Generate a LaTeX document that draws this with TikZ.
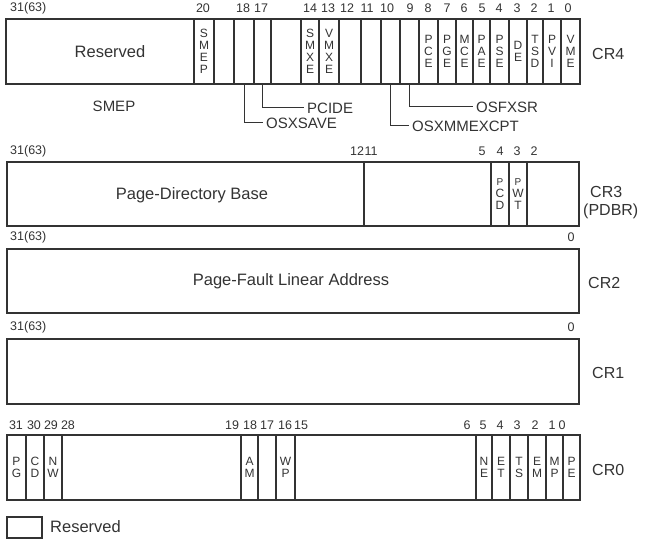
\documentclass[tikz,border=0pt]{standalone}
\usepackage{fontspec}
\setmainfont{Liberation Sans}
\definecolor{ink}{gray}{0.2}
\newcommand\fieldbox[6]{\node[fld, minimum width={(#3-#2)*1pt}, minimum height={(#5-#4)*1pt}] (#1) at (#2,#4) {#6};}
\tikzset{
  fld/.style={draw=ink, line width=1.3pt, inner sep=0pt, outer sep=0pt, anchor=north west, align=center, text=ink, font=\fontsize{12}{12}\selectfont},
  bitnum/.style={font=\fontsize{12.5}{13}\selectfont, inner sep=0pt, text=ink},
  reglabel/.style={font=\fontsize{16}{17}\selectfont, anchor=west, inner sep=0pt, text=ink},
  bigtext/.style={font=\fontsize{16.5}{18}\selectfont, inner sep=0pt, text=ink},
  flaglabel/.style={font=\fontsize{15}{16}\selectfont, anchor=west, inner sep=0pt, inner xsep=3pt, text=ink},
  leader/.style={draw=ink, line width=1pt},
}
\begin{document}
\begin{tikzpicture}[x=1pt,y=-1pt]
\useasboundingbox (0,0) rectangle (651,545);
% ---------------- CR4 ----------------
\fieldbox{r4res}{6}{194}{19}{84}{}
\fieldbox{r4b20}{194}{214}{19}{84}{S\\M\\E\\P}
\fieldbox{r4b19}{214}{234}{19}{84}{}
\fieldbox{r4b18}{234}{254}{19}{84}{}
\fieldbox{r4b17}{254}{271}{19}{84}{}
\fieldbox{r4b16}{271}{301}{19}{84}{}
\fieldbox{r4b14}{301}{319}{19}{84}{S\\M\\X\\E}
\fieldbox{r4b13}{319}{339}{19}{84}{V\\M\\X\\E}
\fieldbox{r4b12}{339}{361}{19}{84}{}
\fieldbox{r4b11}{361}{381}{19}{84}{}
\fieldbox{r4b10}{381}{400}{19}{84}{}
\fieldbox{r4b9}{400}{419}{19}{84}{}
\fieldbox{r4b8}{419}{438}{19}{84}{P\\C\\E}
\fieldbox{r4b7}{438}{456}{19}{84}{P\\G\\E}
\fieldbox{r4b6}{456}{473}{19}{84}{M\\C\\E}
\fieldbox{r4b5}{473}{490}{19}{84}{P\\A\\E}
\fieldbox{r4b4}{490}{509}{19}{84}{P\\S\\E}
\fieldbox{r4b3}{509}{527}{19}{84}{D\\E}
\fieldbox{r4b2}{527}{543}{19}{84}{T\\S\\D}
\fieldbox{r4b1}{543}{561}{19}{84}{P\\V\\I}
\fieldbox{r4b0}{561}{580}{19}{84}{V\\M\\E}
\node[bigtext] (r4restext) at (110,52) {Reserved};
\node[bitnum, anchor=west] (n4a) at (10,8) {31(63)};
\node[bitnum] (n4b) at (203,8) {20};
\node[bitnum] (n4c) at (243,8) {18};
\node[bitnum] (n4d) at (261,8) {17};
\node[bitnum] (n4e) at (310,8) {14};
\node[bitnum] (n4f) at (328,8) {13};
\node[bitnum] (n4g) at (347,8) {12};
\node[bitnum] (n4h) at (367,8) {11};
\node[bitnum] (n4i) at (387,8) {10};
\node[bitnum] (n4j) at (410,8) {9};
\node[bitnum] (n4k) at (428,8) {8};
\node[bitnum] (n4l) at (447,8) {7};
\node[bitnum] (n4m) at (464,8) {6};
\node[bitnum] (n4n) at (482,8) {5};
\node[bitnum] (n4o) at (499,8) {4};
\node[bitnum] (n4p) at (517,8) {3};
\node[bitnum] (n4q) at (534,8) {2};
\node[bitnum] (n4r) at (551,8) {1};
\node[bitnum] (n4s) at (568,8) {0};
\node[reglabel] (cr4) at (592,54) {CR4};
\node[flaglabel, inner xsep=0pt, anchor=center] (smep) at (114,106) {SMEP};
\node[flaglabel] (lpcide) at (304,108) {PCIDE};
\node[flaglabel] (losxsave) at (263,123) {OSXSAVE};
\node[flaglabel] (losfxsr) at (473,107) {OSFXSR};
\node[flaglabel] (losxmm) at (409,126) {OSXMMEXCPT};
\draw[leader] (r4b17.south) |- (lpcide.west);
\draw[leader] (r4b18.south) |- (losxsave.west);
\draw[leader] (r4b9.south) |- (losfxsr.west);
\draw[leader] (r4b10.south) |- (losxmm.west);
% ---------------- CR3 ----------------
\fieldbox{r3base}{7}{364}{162}{226}{}
\fieldbox{r3res1}{364}{491}{162}{226}{}
\fieldbox{r3pcd}{491}{509}{162}{226}{\fontsize{10}{10.5}\selectfont P\\C\\D}
\fieldbox{r3pwt}{509}{527}{162}{226}{\fontsize{10}{10.5}\selectfont P\\W\\T}
\fieldbox{r3res0}{527}{579}{162}{226}{}
\node[bigtext] (r3text) at (192,195) {Page-Directory Base};
\node[bitnum, anchor=west] (n3a) at (10,151) {31(63)};
\node[bitnum] (n3b) at (357,151) {12};
\node[bitnum] (n3c) at (371,151) {11};
\node[bitnum] (n3d) at (482,151) {5};
\node[bitnum] (n3e) at (500,151) {4};
\node[bitnum] (n3f) at (517,151) {3};
\node[bitnum] (n3g) at (534,151) {2};
\node[reglabel] (cr3) at (590,192) {CR3};
\node[reglabel] (cr3b) at (583,211) {(PDBR)};
% ---------------- CR2 ----------------
\fieldbox{r2}{7}{579}{249}{313}{}
\node[bigtext] (r2text) at (291,281) {Page-Fault Linear Address};
\node[bitnum, anchor=west] (n2a) at (10,237) {31(63)};
\node[bitnum] (n2b) at (571,237) {0};
\node[reglabel] (cr2) at (588,283) {CR2};
% ---------------- CR1 ----------------
\fieldbox{r1}{7}{579}{339}{404}{}
\node[bitnum, anchor=west] (n1a) at (10,327) {31(63)};
\node[bitnum] (n1b) at (571,327) {0};
\node[reglabel] (cr1) at (592,373) {CR1};
% ---------------- CR0 ----------------
\fieldbox{r0b31}{7}{26}{435}{500}{P\\G}
\fieldbox{r0b30}{26}{44}{435}{500}{C\\D}
\fieldbox{r0b29}{44}{62}{435}{500}{N\\W}
\fieldbox{r0res2}{62}{241}{435}{500}{}
\fieldbox{r0b18}{241}{258}{435}{500}{A\\M}
\fieldbox{r0b17}{258}{276}{435}{500}{}
\fieldbox{r0b16}{276}{295}{435}{500}{W\\P}
\fieldbox{r0res1}{295}{476}{435}{500}{}
\fieldbox{r0b5}{476}{492}{435}{500}{N\\E}
\fieldbox{r0b4}{492}{510}{435}{500}{E\\T}
\fieldbox{r0b3}{510}{528}{435}{500}{T\\S}
\fieldbox{r0b2}{528}{546}{435}{500}{E\\M}
\fieldbox{r0b1}{546}{563}{435}{500}{M\\P}
\fieldbox{r0b0}{563}{580}{435}{500}{P\\E}
\node[bitnum] (n0a) at (16,425) {31};
\node[bitnum] (n0b) at (34,425) {30};
\node[bitnum] (n0c) at (51,425) {29};
\node[bitnum] (n0d) at (68,425) {28};
\node[bitnum] (n0e) at (232,425) {19};
\node[bitnum] (n0f) at (250,425) {18};
\node[bitnum] (n0g) at (267,425) {17};
\node[bitnum] (n0h) at (285,425) {16};
\node[bitnum] (n0i) at (301,425) {15};
\node[bitnum] (n0j) at (467,425) {6};
\node[bitnum] (n0k) at (483,425) {5};
\node[bitnum] (n0l) at (500,425) {4};
\node[bitnum] (n0m) at (517,425) {3};
\node[bitnum] (n0n) at (535,425) {2};
\node[bitnum] (n0o) at (552,425) {1};
\node[bitnum] (n0p) at (562,425) {0};
\node[reglabel] (cr0) at (592,470) {CR0};
% ---------------- legend ----------------
\fieldbox{legbox}{7}{42}{517}{538}{}
\node[bigtext, anchor=west] (legtext) at (50,527) {Reserved};
\end{tikzpicture}
\end{document}
